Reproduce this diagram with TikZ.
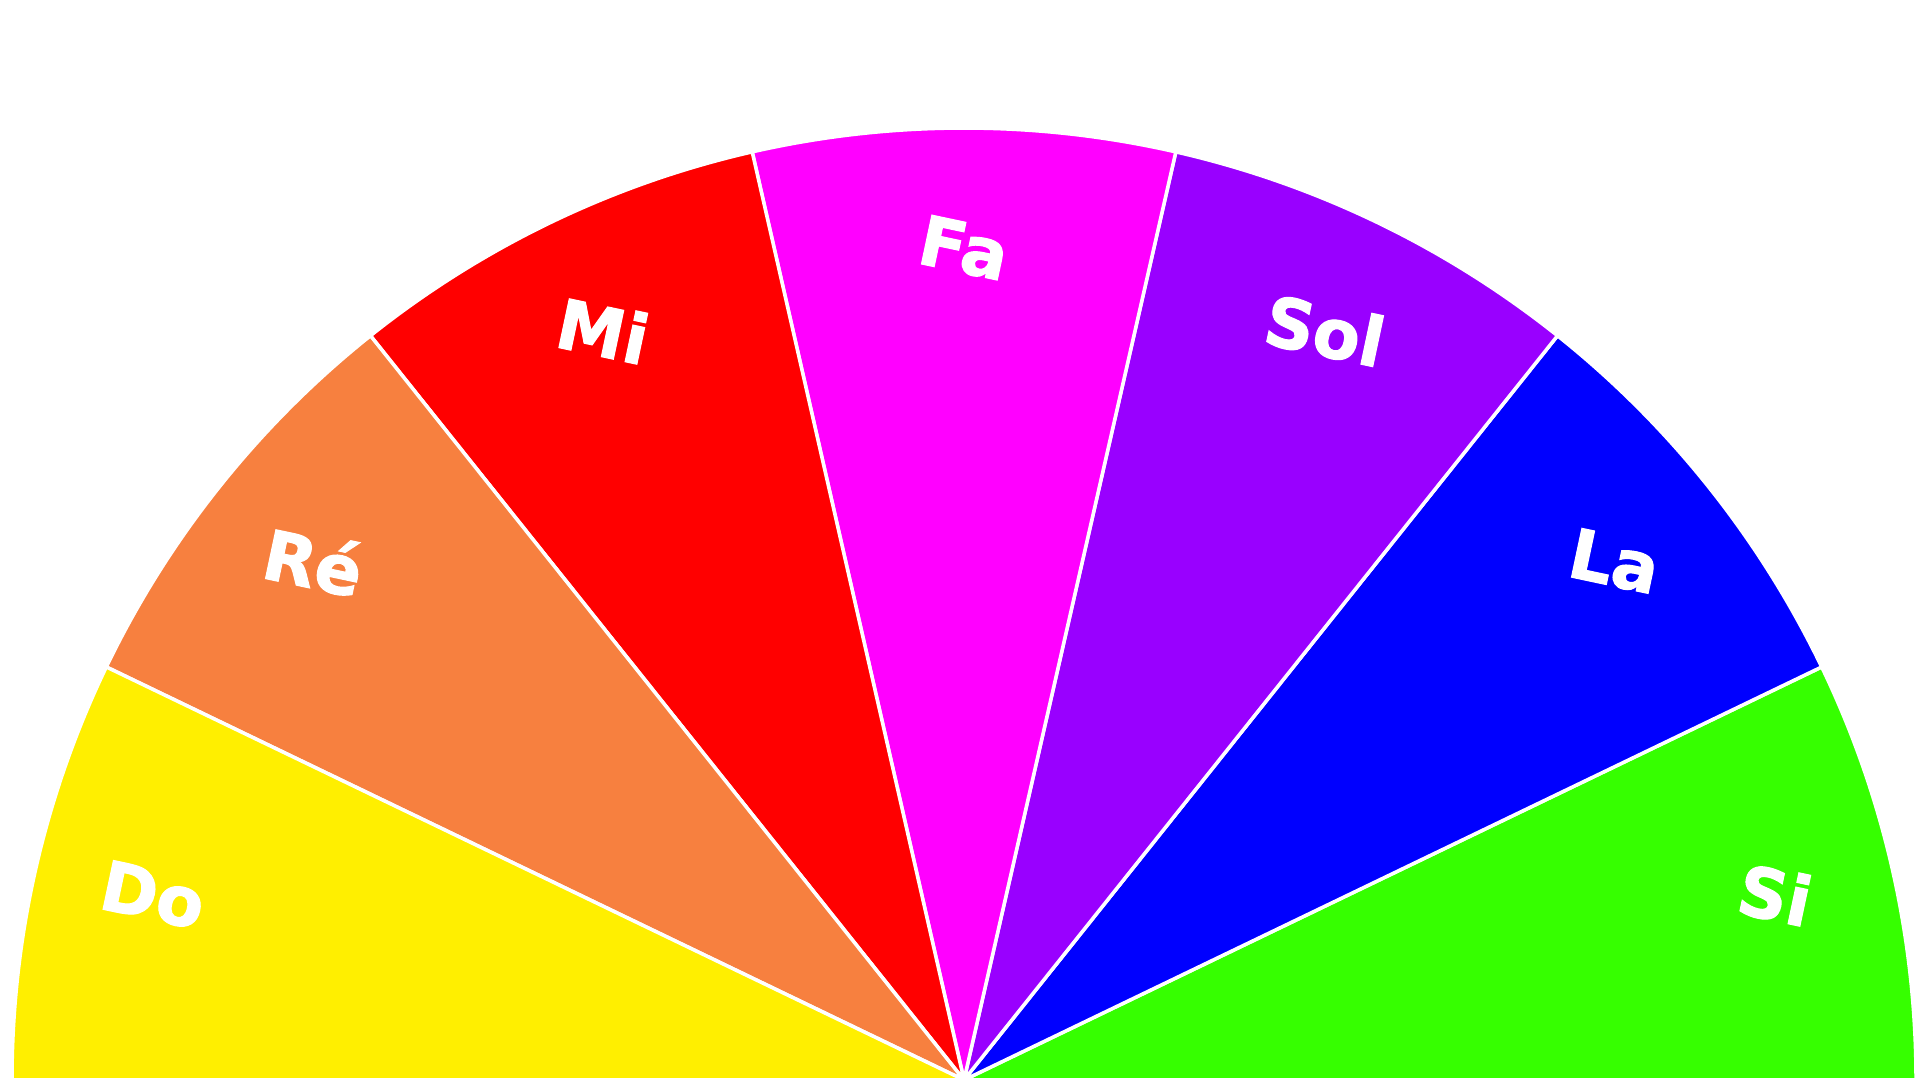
\documentclass[tikz,border=0pt]{standalone}
\usepackage{fontspec}
\setmainfont{DejaVu Sans}[BoldFeatures={FakeBold=1.6}]
\usetikzlibrary{calc}
\definecolor{cDo}{HTML}{FFEF00}
\definecolor{cRe}{HTML}{F7803F}
\definecolor{cMi}{HTML}{FF0000}
\definecolor{cFa}{HTML}{FF00FF}
\definecolor{cSol}{HTML}{9900FF}
\definecolor{cLa}{HTML}{0000FF}
\definecolor{cSi}{HTML}{36FF00}
\begin{document}
\begin{tikzpicture}[
  sector/.style={draw=white, line width=1pt, line join=round},
  notelabel/.style={text=white, font=\bfseries\fontsize{19.5}{22}\selectfont, rotate=-12, inner sep=0pt}
]
\useasboundingbox (0,0) rectangle (19.2,10.8);
\coordinate (O) at (9.64,0);
\def\R{9.52}
\def\Rl{8.32}
\foreach \i/\c/\t in {0/cSi/Si,1/cLa/La,2/cSol/Sol,3/cFa/Fa,4/cMi/Mi,5/cRe/Ré,6/cDo/Do}{
  \pgfmathsetmacro\a{\i*180/7}
  \pgfmathsetmacro\b{(\i+1)*180/7}
  \pgfmathsetmacro\m{(\i+0.5)*180/7}
  \filldraw[sector, fill=\c] (O) -- ++(\a:\R) arc[start angle=\a, end angle=\b, radius=\R] -- cycle;
  \node[notelabel] (lab\i) at ($(O)+(\m:\Rl)$) {\t};
}
\end{tikzpicture}
\end{document}
